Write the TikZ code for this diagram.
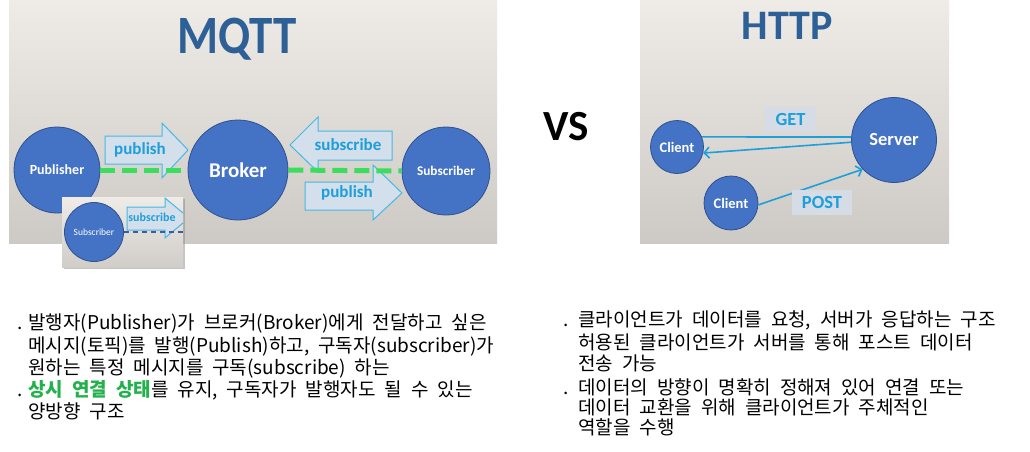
\documentclass[tikz,border=0pt]{standalone}
\usepackage{fontspec}
\setmainfont{Carlito}
\newfontfamily\kr{Noto Sans CJK KR}
\newcommand\krsetup{\kr\fontsize{19}{21}\selectfont\spaceskip=9pt plus 0pt minus 0pt\relax}
\usetikzlibrary{shadows,arrows.meta}
\definecolor{circfill}{HTML}{4472C4}
\definecolor{circdraw}{HTML}{2F528F}
\definecolor{titleblue}{HTML}{2D6097}
\definecolor{arrfill}{HTML}{D3DFEA}
\definecolor{arrdraw}{HTML}{45B8E6}
\definecolor{arrtext}{HTML}{1C9FDA}
\definecolor{dashgreen}{HTML}{3BDD5C}
\definecolor{bgtop}{HTML}{EFECE7}
\definecolor{bgbot}{HTML}{CDC9C4}
\definecolor{lblbox}{HTML}{D5DCE5}
\definecolor{okgreen}{HTML}{22B14C}
\definecolor{insetnavy}{HTML}{3C5C9C}
\begin{document}
\begin{tikzpicture}[x=1pt,y=-1pt,
  circ/.style={circle,fill=circfill,draw=circdraw,line width=0.8pt,text=white,font=\bfseries,inner sep=0pt},
  blockarr/.style={fill=arrfill,draw=arrdraw,line width=1pt},
  arrlbl/.style={text=arrtext,font=\bfseries\fontsize{17}{19}\selectfont,inner sep=0pt},
  link/.style={draw=arrtext,line width=1.6pt},
  barb/.style={-{Straight Barb[length=5pt,width=11pt,line width=1.6pt]}},
  greendash/.style={draw=dashgreen,line width=5pt,dash pattern=on 15pt off 7pt},
  lblbox/.style={fill=lblbox,text=arrtext,font=\bfseries\fontsize{18.5}{20}\selectfont,inner sep=0pt},
  krtext/.style={font=\krsetup,anchor=base west,inner sep=0pt},
  ttl/.style={anchor=base,font=\bfseries,inner sep=0pt},
]
\useasboundingbox (0,0) rectangle (1030,452);
\fill[white] (0,0) rectangle (1030,452);
% panels
\shade[top color=bgtop,middle color=bgtop,bottom color=bgbot] (9,0) rectangle (497,243);
\shade[top color=bgtop,middle color=bgtop,bottom color=bgbot] (640,0) rectangle (949,243);
% titles
\node[ttl,text=titleblue,font=\bfseries\fontsize{54}{60}\selectfont] (mqtt) at (237,53) {\scalebox{0.87}[1]{MQTT}};
\node[ttl,text=titleblue,font=\bfseries\fontsize{42}{48}\selectfont] (http) at (787,40) {HTTP};
\node[ttl,text=black,font=\bfseries\fontsize{43}{48}\selectfont] (vs) at (566,140) {VS};
% MQTT circles
\node[circ,minimum size=86pt,font=\bfseries\fontsize{14}{16}\selectfont] (pub) at (57,170) {Publisher};
\node[circ,minimum size=100pt,font=\bfseries\fontsize{21}{24}\selectfont] (brk) at (238,170) {Broker};
\node[circ,minimum size=88pt,font=\bfseries\fontsize{13.3}{15}\selectfont] (sub) at (446,171) {Subscriber};
% block arrows
\draw[blockarr] (105,136) -- (162,136) -- (162,123) -- (188,150) -- (162,178) -- (162,164) -- (105,164) -- cycle;
\node[arrlbl] (lpub1) at (140,150) {publish};
\draw[blockarr] (392,131) -- (318,131) -- (318,117) -- (290,145) -- (318,172) -- (318,160) -- (392,160) -- cycle;
\node[arrlbl] (lsubs) at (348,145) {subscribe};
\draw[blockarr] (305,182) -- (373,182) -- (373,165) -- (402,193) -- (373,220) -- (373,210) -- (305,210) -- cycle;
\node[arrlbl] (lpub2) at (347,193) {publish};
% green dashed connection
\draw[greendash] (pub.east) -- (brk.west);
\draw[greendash] (brk.east) -- (sub.west);
% inset
\node[top color=bgtop,bottom color=bgbot!90!bgtop,minimum width=121pt,minimum height=70pt,inner sep=0pt,
      drop shadow={shadow xshift=2pt,shadow yshift=-2pt,opacity=0.45}] (inset) at (122.5,232) {};
\begin{scope}
  \clip (62,197) rectangle (183,267);
  \draw[blockarr] (127,207) -- (165,207) -- (165,198) -- (189,218) -- (165,238) -- (165,230) -- (127,230) -- cycle;
\end{scope}
\node[arrlbl,font=\bfseries\fontsize{12}{14}\selectfont] (lisub) at (152,217) {subscribe};
\node[circ,minimum size=59pt,font=\fontsize{9.5}{11}\selectfont] (isub) at (94,232) {Subscriber};
\draw[insetnavy,line width=1.2pt,dash pattern=on 5pt off 4pt] (isub.east) -- (inset.east |- isub.east);
% HTTP
\node[circ,minimum size=53pt,font=\bfseries\fontsize{14.5}{16}\selectfont] (c1) at (677,147) {Client};
\node[circ,minimum size=85pt,font=\bfseries\fontsize{18.5}{20}\selectfont] (srv) at (894,140) {Server};
\node[circ,minimum size=54pt,font=\bfseries\fontsize{14.5}{16}\selectfont] (c2) at (731,203) {Client};
\draw[link] (c1.22) -- (srv.176);
\draw[link,barb] (srv.183) -- (c1.-13);
\draw[link,barb] (c2.-4) -- (srv.223);
\node[lblbox,minimum width=51pt,minimum height=25pt] (get) at (790.5,119.5) {GET};
\node[lblbox,minimum width=60pt,minimum height=25pt] (post) at (822,202.5) {POST};
% texts left
\node[krtext] (d1) at (17,329) {.};
\node[krtext] (l1) at (28,329) {발행자(Publisher)가 브로커(Broker)에게 전달하고 싶은};
\node[krtext] (l2) at (28,352) {메시지(토픽)를 발행(Publish)하고, 구독자(subscriber)가};
\node[krtext] (l3) at (28,374) {원하는 특정 메시지를 구독(subscribe) 하는};
\node[krtext] (d2) at (17,396) {.};
\node[krtext] (l4) at (28,396) {{\color{okgreen}\bfseries 상시 연결 상태}를 유지, 구독자가 발행자도 될 수 있는};
\node[krtext] (l5) at (28,418) {양방향 구조};
% texts right
\node[krtext] (d3) at (563,326) {.};
\node[krtext] (r1) at (578,326) {클라이언트가 데이터를 요청, 서버가 응답하는 구조};
\node[krtext] (r2) at (578,349) {허용된 클라이언트가 서버를 통해 포스트 데이터};
\node[krtext] (r3) at (578,370) {전송 가능};
\node[krtext] (d4) at (563,394) {.};
\node[krtext] (r4) at (578,394) {데이터의 방향이 명확히 정해져 있어 연결 또는};
\node[krtext] (r5) at (578,414) {데이터 교환을 위해 클라이언트가 주체적인};
\node[krtext] (r6) at (578,434) {역할을 수행};
\end{tikzpicture}
\end{document}
